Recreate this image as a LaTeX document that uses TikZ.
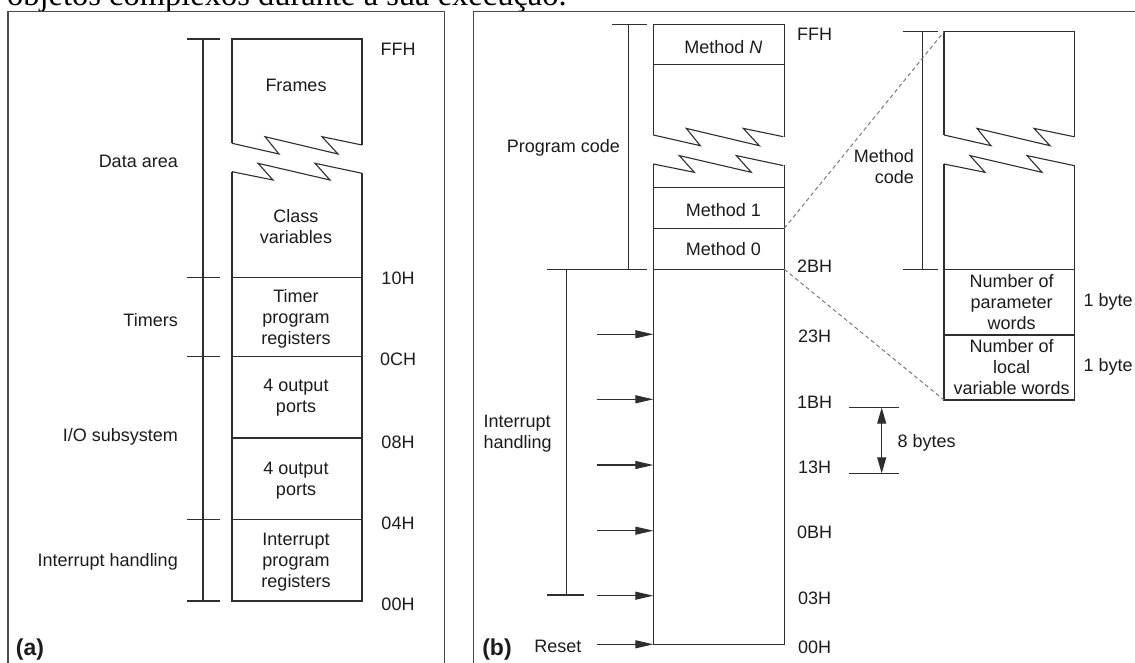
\documentclass[tikz,border=0pt]{standalone}
\usepackage{fontspec}
\setmainfont{Liberation Serif}
\setsansfont{Liberation Sans}
\usetikzlibrary{arrows.meta,calc}

\definecolor{linegray}{HTML}{2E2E2E}
\definecolor{framegray}{HTML}{4A4A4A}
\definecolor{textgray}{HTML}{1C1C1C}
\definecolor{dashgray}{HTML}{7A7A7A}

\begin{document}
\begin{tikzpicture}[x=1pt,y=-1pt,
  mline/.style={draw=linegray, line width=1.1pt},
  frameline/.style={draw=framegray, line width=1.2pt},
  lab/.style={font=\sffamily\fontsize{18}{21}\selectfont, text=textgray, inner sep=0pt, align=center},
  tag/.style={font=\sffamily\bfseries\fontsize{23}{26}\selectfont, text=textgray, inner sep=0pt},
  inarrow/.style={mline, -{Triangle[length=18pt,width=8pt]}},
  spanarrow/.style={mline, {Triangle[length=16pt,width=9pt]}-{Triangle[length=16pt,width=9pt]}},
  zoomline/.style={draw=dashgray, line width=1pt, dash pattern=on 4pt off 3pt},
  upperbreak/.pic={\draw[mline] (0,0) -- (47,10.7) -- (33,-6.6) -- (106,10.7) -- (90,-6.6) -- (130,1.7);},
  lowerbreak/.pic={\draw[mline] (0,0) -- (41,8.3) -- (26,-8.4) -- (98,8.3) -- (83,-8.4) -- (130,1.6);}
]
\useasboundingbox (0,0) rectangle (1135,663);
\clip (0,0) rectangle (1135,663);
\fill[white] (0,0) rectangle (1135,663);

% running text line above the figure
\node[anchor=base west, inner sep=0pt, font=\fontsize{32.5}{36}\selectfont] (caption) at (7,6) {objetos complexos durante a sua execução.};

% panel frames
\draw[frameline] (8,700) -- (8,11.7) -- (444.3,11.7) -- (444.3,700);
\draw[frameline] (473.3,700) -- (473.3,11.7) -- (1140,11.7);

% ---------------- panel (a): data memory ----------------
% range bar with ticks
\draw[mline] (203,39) -- (203,601);
\foreach \yy in {39,277.7,356.7,519.3,601}
  \draw[mline] (187,\yy) -- (220,\yy);
% memory column
\draw[mline] (232,143.3) -- (232,39) -- (362,39) -- (362,145);
\pic at (232,143.3) {upperbreak};
\pic at (232,171.7) {lowerbreak};
\draw[mline] (232,171.7) -- (232,601) -- (362,601) -- (362,173.3);
\foreach \yy in {277.7,356.7,438,519.3}
  \draw[mline] (232,\yy) -- (362,\yy);

\node[lab] (frames) at (296,85) {Frames};
\node[lab] (classvars) at (296,227) {Class\\variables};
\node[lab] (timerregs) at (296,319) {Timer\\program\\registers};
\node[lab] (portsb) at (296,397.5) {4 output\\ports};
\node[lab] (portsa) at (296,480.5) {4 output\\ports};
\node[lab] (intregs) at (296,561.7) {Interrupt\\program\\registers};

\node[lab, anchor=east] (dataarea) at (178,161) {Data area};
\node[lab, anchor=east] (timers) at (178,320) {Timers};
\node[lab, anchor=east] (iosub) at (178,437) {I/O subsystem};
\node[lab, anchor=east] (inthandA) at (178,561.7) {Interrupt handling};

\node[lab] (aFFH) at (398,49) {FFH};
\node[lab] (a10H) at (398,278) {10H};
\node[lab] (a0CH) at (398,359) {0CH};
\node[lab] (a08H) at (398,442) {08H};
\node[lab] (a04H) at (398,523) {04H};
\node[lab] (a00H) at (398,604) {00H};

\node[tag] (taga) at (30,650) {(a)};

% ---------------- panel (b): program memory ----------------
% range bars
\draw[mline] (628.3,24.3) -- (628.3,269.3);
\draw[mline] (611.7,24.3) -- (646.7,24.3);
\draw[mline] (546.7,269.3) -- (646.7,269.3);
\draw[mline] (566.7,269.3) -- (566.7,595);
\draw[mline] (546.7,595) -- (584.3,595);

% memory column
\draw[mline] (653.3,135) -- (653.3,24.3) -- (784.3,24.3) -- (784.3,136.7);
\draw[mline] (653.3,64.3) -- (784.3,64.3);
\pic at (653.3,135) {upperbreak};
\pic at (653.3,164) {lowerbreak};
\draw[mline] (653.3,164) -- (653.3,644.3) -- (784.3,644.3) -- (784.3,165);
\foreach \yy in {187.7,228.3,269.3}
  \draw[mline] (653.3,\yy) -- (784.3,\yy);

\node[lab] (methN) at (723.3,46.7) {Method \textit{N}};
\node[lab] (meth1) at (723.3,210) {Method 1};
\node[lab] (meth0) at (723.3,249.3) {Method 0};

\node[lab, anchor=east] (progcode) at (620,148.3) {Program code};
\node[lab, anchor=west, align=left] (inthandB) at (483.3,433.7) {Interrupt\\handling};
\node[lab, anchor=east] (reset) at (581.7,646.7) {Reset};
\node[tag] (tagb) at (497,650) {(b)};

% interrupt vector entry arrows
\coordinate (v23) at (653.3,334.3);
\coordinate (v1B) at (653.3,399.3);
\coordinate (v13) at (653.3,465);
\coordinate (v0B) at (653.3,530.7);
\coordinate (v03) at (653.3,595.7);
\coordinate (v00) at (653.3,644.3);
\foreach \c in {v23,v1B,v13,v0B,v03,v00}
  \draw[inarrow] ($(\c)+(-56.6,0)$) -- (\c);

\node[lab] (bFFH) at (814.5,34.3) {FFH};
\node[lab] (b2BH) at (814.5,266.7) {2BH};
\node[lab] (b23H) at (814.5,336.7) {23H};
\node[lab] (b1BH) at (814.5,402.7) {1BH};
\node[lab] (b13H) at (814.5,467.7) {13H};
\node[lab] (b0BH) at (814.5,532.3) {0BH};
\node[lab] (b03H) at (814.5,598.3) {03H};
\node[lab] (b00H) at (814.5,647.7) {00H};

% vector spacing dimension
\coordinate (dimtop) at (881.7,407.7);
\coordinate (dimbot) at (881.7,473.3);
\draw[mline] (849.3,407.7) -- (899,407.7);
\draw[mline] (849.3,473.3) -- (899,473.3);
\draw[spanarrow] (dimtop) -- (dimbot);
\node[lab, anchor=west] (eightbytes) at (897.3,443.3) {8 bytes};

% ---------------- method layout detail ----------------
\draw[mline] (944,135) -- (944,31.7) -- (1074.3,31.7) -- (1074.3,136.7);
\pic at (944,135) {upperbreak};
\pic at (944,164) {lowerbreak};
\draw[mline] (944,164) -- (944,400) -- (1074.3,400) -- (1074.3,165);
\draw[mline] (944,269.3) -- (1074.3,269.3);
\draw[mline] (944,335) -- (1074.3,335);

\draw[mline] (922.3,31.7) -- (922.3,269.3);
\draw[mline] (903.3,31.7) -- (938.3,31.7);
\draw[mline] (903.3,269.3) -- (938.3,269.3);
\node[lab, anchor=east, align=right] (methcode) at (914,167) {Method\\code};

\node[lab] (nparams) at (1011.7,302.4) {Number of\\parameter\\words};
\node[lab] (nlocals) at (1011.7,367.4) {Number of\\local\\variable words};
\node[lab, anchor=west] (bytep) at (1083.3,301.7) {1 byte};
\node[lab, anchor=west] (bytel) at (1083.3,366.7) {1 byte};

% expansion guides from Method 0 to its layout
\coordinate (m0top) at (784.3,228.3);
\coordinate (m0bot) at (784.3,269.3);
\coordinate (dtop) at (944,31.7);
\coordinate (dbot) at (944,400);
\draw[zoomline] (m0top) -- (dtop);
\draw[zoomline] (m0bot) -- (dbot);
\end{tikzpicture}
\end{document}
